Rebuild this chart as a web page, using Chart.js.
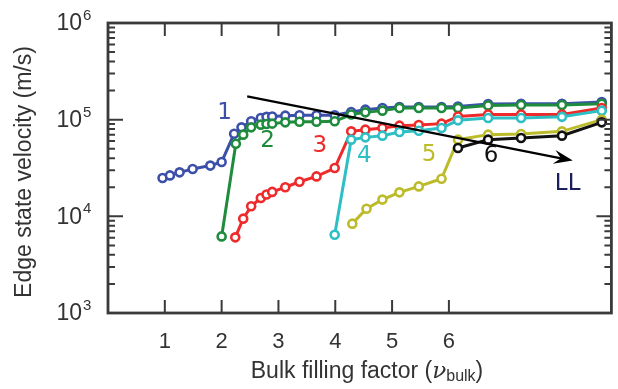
<!DOCTYPE html>
<html lang="en">
<head>
<meta charset="UTF-8">
<title>Edge state velocity vs bulk filling factor</title>
<script src="https://cdn.jsdelivr.net/npm/chart.js@4.4.0/dist/chart.umd.min.js"></script>
<style>
    html, body { margin: 0; padding: 0; background: #fff; }
    .chart-container { position: relative; width: 618px; height: 389px; }
</style>
</head>
<body>

<div class="chart-container">
    <canvas id="velocityChart" width="618" height="389"></canvas>
</div>

<script>
// Edge state velocity (m/s) against bulk filling factor, one series per Landau level
const nuLL1 = [0.96, 1.09, 1.26, 1.49, 1.80, 2.00, 2.22, 2.35, 2.52, 2.69, 2.79, 2.89, 3.12, 3.37, 3.67, 3.99, 4.28, 4.53, 4.83, 5.13, 5.47, 5.87, 6.16, 6.69, 7.27, 7.99, 8.69];
const vLL1 = [24900, 26500, 28500, 30900, 33500, 36500, 71600, 83300, 96200, 104000, 107000, 108000, 110000, 111000, 111000, 111000, 120000, 127000, 132000, 135000, 135000, 135000, 137000, 145000, 146000, 146000, 152000];

const nuLL2 = [2.00, 2.25, 2.38, 2.52, 2.69, 2.79, 2.89, 3.12, 3.37, 3.67, 3.99, 4.28, 4.53, 4.83, 5.13, 5.47, 5.87, 6.16, 6.69, 7.27, 7.99, 8.69];
const vLL2 = [6200, 56400, 70000, 83300, 88800, 90200, 91000, 93800, 95300, 95300, 96200, 113000, 119000, 124000, 132000, 132000, 132000, 132000, 140000, 142000, 142000, 146000];

const nuLL3 = [2.24, 2.38, 2.52, 2.69, 2.79, 2.89, 3.12, 3.37, 3.67, 3.99, 4.28, 4.53, 4.83, 5.13, 5.47, 5.87, 6.16, 6.69, 7.27, 7.99, 8.69];
const vLL3 = [6060, 9460, 12700, 15500, 16800, 17900, 20000, 22800, 25900, 31600, 75700, 78800, 82000, 86700, 88100, 91000, 108000, 113000, 113000, 113000, 132000];

const nuLL4 = [3.99, 4.28, 4.53, 4.83, 5.13, 5.47, 5.87, 6.16, 6.69, 7.27, 7.99, 8.69];
const vLL4 = [6460, 62100, 65600, 68300, 74500, 76900, 82000, 98400, 104000, 104000, 107000, 124000];

const nuLL5 = [4.30, 4.55, 4.83, 5.13, 5.47, 5.87, 6.16, 6.69, 7.27, 7.99, 8.69];
const vLL5 = [8400, 12000, 14900, 17700, 20400, 24500, 62100, 70000, 71100, 75700, 100000];

const nuLL6 = [6.16, 6.69, 7.27, 7.99, 8.69];
const vLL6 = [50900, 62100, 64600, 68300, 93800];

const xTicks = [1, 2, 3, 4, 5, 6];
const yDecades = [3, 4, 5, 6];

// level labels placed in data coordinates
const levelNames = ['1', '2', '3', '4', '5', '6', 'LL'];
const levelNu = [2.05, 2.81, 3.73, 4.51, 5.65, 6.74, 8.09];
const levelV = [117000, 59700, 53000, 41800, 43400, 41800, 21800];

// arrow showing increasing Landau level index
const arrowFrom = [2.45, 174000];
const arrowTo = [8.18, 37700];

const colors = ['#3c50aa', '#1e8c3c', '#ee2a2a', '#2dbfc4', '#bcbc2a', '#111111'];
const labelColors = ['#3c50aa', '#1e8c3c', '#ee2a2a', '#2dbfc4', '#bcbc2a', '#111111', '#1c1f5e'];

function series(nu, v, i) {
    return {
        data: nu.map((x, k) => ({ x: x, y: v[k] })),
        borderColor: colors[i],
        pointBorderColor: colors[i],
        pointBackgroundColor: '#ffffff',
        borderWidth: 3,
        pointRadius: 4,
        pointBorderWidth: 2.6,
        tension: 0,
        order: 6 - i
    };
}

// frame, inward ticks, annotations and axis titles
const decorations = {
    id: 'decorations',
    afterDatasetsDraw(chart) {
        const ctx = chart.ctx;
        const xs = chart.scales.x, ys = chart.scales.y;

        // arrow
        const x0 = xs.getPixelForValue(arrowFrom[0]), y0 = ys.getPixelForValue(arrowFrom[1]);
        const x1 = xs.getPixelForValue(arrowTo[0]), y1 = ys.getPixelForValue(arrowTo[1]);
        const ang = Math.atan2(y1 - y0, x1 - x0);
        ctx.save();
        ctx.strokeStyle = '#000';
        ctx.lineWidth = 2.2;
        ctx.beginPath();
        ctx.moveTo(x0, y0);
        ctx.lineTo(x1 - 8 * Math.cos(ang), y1 - 8 * Math.sin(ang));
        ctx.stroke();
        ctx.translate(x1, y1);
        ctx.rotate(ang);
        ctx.fillStyle = '#000';
        ctx.beginPath();
        ctx.moveTo(0, 0);
        ctx.lineTo(-19, -7);
        ctx.lineTo(-12, 0);
        ctx.lineTo(-19, 7);
        ctx.closePath();
        ctx.fill();
        ctx.restore();

        // level labels
        ctx.save();
        ctx.font = '23px "DejaVu Sans"';
        ctx.textAlign = 'center';
        ctx.textBaseline = 'middle';
        levelNames.forEach((t, i) => {
            ctx.fillStyle = labelColors[i];
            ctx.fillText(t, xs.getPixelForValue(levelNu[i]), ys.getPixelForValue(levelV[i]));
        });
        ctx.restore();
    },
    afterDraw(chart) {
        const ctx = chart.ctx;
        const a = chart.chartArea;
        const xs = chart.scales.x, ys = chart.scales.y;
        ctx.save();
        ctx.strokeStyle = '#3a3a3a';
        ctx.lineWidth = 2.8;
        ctx.strokeRect(a.left, a.top, a.right - a.left, a.bottom - a.top);

        ctx.beginPath();
        xTicks.forEach(v => {
            const px = xs.getPixelForValue(v);
            ctx.moveTo(px, a.bottom); ctx.lineTo(px, a.bottom - 13);
            ctx.moveTo(px, a.top); ctx.lineTo(px, a.top + 13);
        });
        yDecades.forEach((d, k) => {
            const py = ys.getPixelForValue(Math.pow(10, d));
            ctx.moveTo(a.left, py); ctx.lineTo(a.left + 15, py);
            ctx.moveTo(a.right, py); ctx.lineTo(a.right - 15, py);
            if (k < yDecades.length - 1) {
                for (let m = 2; m <= 9; m++) {
                    const pm = ys.getPixelForValue(m * Math.pow(10, d));
                    ctx.moveTo(a.left, pm); ctx.lineTo(a.left + 7, pm);
                    ctx.moveTo(a.right, pm); ctx.lineTo(a.right - 7, pm);
                }
            }
        });
        ctx.lineWidth = 2;
        ctx.stroke();

        // y tick labels as 10 with a raised exponent
        ctx.fillStyle = '#333';
        ctx.textBaseline = 'middle';
        yDecades.forEach(d => {
            const py = ys.getPixelForValue(Math.pow(10, d));
            ctx.font = '23px "Liberation Sans"';
            ctx.textAlign = 'right';
            ctx.fillText('10', 82, py + 1);
            ctx.font = '15px "Liberation Sans"';
            ctx.textAlign = 'left';
            ctx.fillText(String(d), 83, py - 7);
        });

        // y title
        ctx.save();
        ctx.translate(25, 172);
        ctx.rotate(-Math.PI / 2);
        ctx.textAlign = 'center';
        ctx.font = '23px "Liberation Sans"';
        ctx.fillText('Edge state velocity (m/s)', 0, 0);
        ctx.restore();

        // x title with subscripted nu
        const parts = [
            { t: 'Bulk filling factor (', f: '23px "Liberation Sans"', dy: 0 },
            { t: 'ν', f: 'italic 23px "DejaVu Serif"', dy: 0 },
            { t: 'bulk', f: '16px "Liberation Sans"', dy: 5 },
            { t: ')', f: '23px "Liberation Sans"', dy: 0 }
        ];
        let total = 0;
        parts.forEach(p => { ctx.font = p.f; p.w = ctx.measureText(p.t).width; total += p.w; });
        let cx = 367 - total / 2;
        ctx.textAlign = 'left';
        parts.forEach(p => {
            ctx.font = p.f;
            ctx.fillText(p.t, cx, 372 + p.dy);
            cx += p.w;
        });
        ctx.restore();
    }
};

new Chart(document.getElementById('velocityChart'), {
    type: 'line',
    data: {
        datasets: [
            series(nuLL1, vLL1, 0),
            series(nuLL2, vLL2, 1),
            series(nuLL3, vLL3, 2),
            series(nuLL4, vLL4, 3),
            series(nuLL5, vLL5, 4),
            series(nuLL6, vLL6, 5)
        ]
    },
    options: {
        responsive: false,
        animation: false,
        devicePixelRatio: 1,
        layout: { padding: { top: 23, right: 1, left: 0, bottom: 0 } },
        plugins: { legend: { display: false }, tooltip: { enabled: false } },
        scales: {
            x: {
                type: 'linear',
                min: 0,
                max: 8.86,
                afterBuildTicks: s => { s.ticks = xTicks.map(v => ({ value: v })); },
                afterFit: s => { s.height = 76; },
                grid: { display: false, drawTicks: false },
                border: { display: false },
                ticks: {
                    padding: 16,
                    color: '#333',
                    font: { family: 'Liberation Sans', size: 22 },
                    maxRotation: 0
                }
            },
            y: {
                type: 'logarithmic',
                min: 1000,
                max: 1000000,
                afterFit: s => { s.width = 108; },
                grid: { display: false, drawTicks: false },
                border: { display: false },
                ticks: { display: false }
            }
        }
    },
    plugins: [decorations]
});
</script>

</body>
</html>
